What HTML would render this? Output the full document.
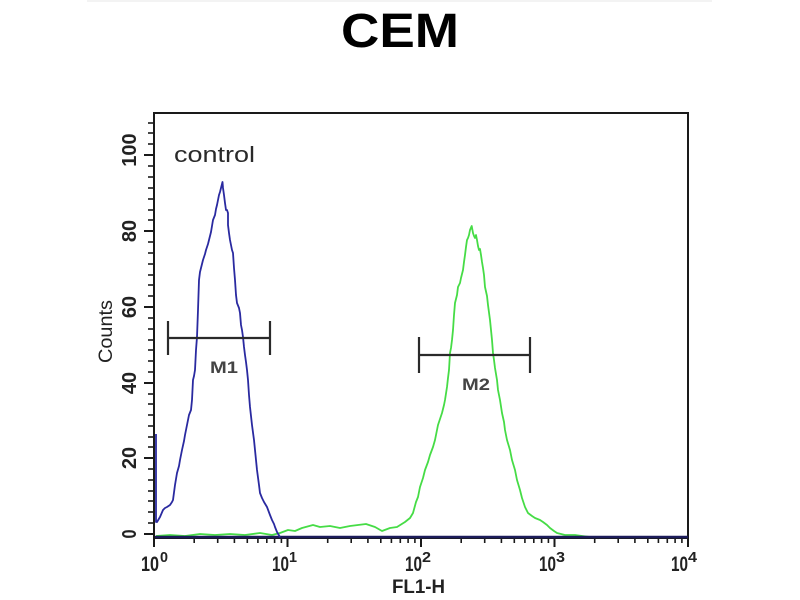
<!DOCTYPE html>
<html>
<head>
<meta charset="utf-8">
<style>
html,body{margin:0;padding:0;background:#fff;}
svg{display:block;}
text{font-family:"Liberation Sans",sans-serif;}
</style>
</head>
<body>
<svg width="800" height="600" viewBox="0 0 800 600" xmlns="http://www.w3.org/2000/svg">
<rect x="0" y="0" width="800" height="600" fill="#fff"/>
<line x1="87" y1="1" x2="712" y2="1" stroke="#efefef" stroke-width="1.5"/>
<text x="341" y="47" font-size="48" font-weight="bold" fill="#000" textLength="118" lengthAdjust="spacingAndGlyphs">CEM</text>

<!-- frame -->
<rect x="154" y="113" width="534" height="425" fill="none" stroke="#1a1a1a" stroke-width="2"/>

<!-- y ticks -->
<g stroke="#1a1a1a" stroke-width="2">
<line x1="144" y1="534" x2="154" y2="534"/>
<line x1="144" y1="458" x2="154" y2="458"/>
<line x1="144" y1="383" x2="154" y2="383"/>
<line x1="144" y1="307" x2="154" y2="307"/>
<line x1="144" y1="231" x2="154" y2="231"/>
<line x1="144" y1="155" x2="154" y2="155"/>
</g>
<g stroke="#1a1a1a" stroke-width="1.6">
<line x1="148" y1="523" x2="154" y2="523"/><line x1="148" y1="512" x2="154" y2="512"/><line x1="148" y1="501" x2="154" y2="501"/><line x1="148" y1="491" x2="154" y2="491"/><line x1="148" y1="480" x2="154" y2="480"/><line x1="148" y1="469" x2="154" y2="469"/>
<line x1="148" y1="447" x2="154" y2="447"/><line x1="148" y1="437" x2="154" y2="437"/><line x1="148" y1="426" x2="154" y2="426"/><line x1="148" y1="415" x2="154" y2="415"/><line x1="148" y1="404" x2="154" y2="404"/><line x1="148" y1="394" x2="154" y2="394"/>
<line x1="148" y1="372" x2="154" y2="372"/><line x1="148" y1="361" x2="154" y2="361"/><line x1="148" y1="350" x2="154" y2="350"/><line x1="148" y1="340" x2="154" y2="340"/><line x1="148" y1="329" x2="154" y2="329"/><line x1="148" y1="318" x2="154" y2="318"/>
<line x1="148" y1="296" x2="154" y2="296"/><line x1="148" y1="285" x2="154" y2="285"/><line x1="148" y1="275" x2="154" y2="275"/><line x1="148" y1="264" x2="154" y2="264"/><line x1="148" y1="253" x2="154" y2="253"/><line x1="148" y1="242" x2="154" y2="242"/>
<line x1="148" y1="220" x2="154" y2="220"/><line x1="148" y1="210" x2="154" y2="210"/><line x1="148" y1="199" x2="154" y2="199"/><line x1="148" y1="188" x2="154" y2="188"/><line x1="148" y1="177" x2="154" y2="177"/><line x1="148" y1="166" x2="154" y2="166"/>
<line x1="148" y1="144" x2="154" y2="144"/><line x1="148" y1="133" x2="154" y2="133"/><line x1="148" y1="123" x2="154" y2="123"/>
</g>

<!-- y tick labels (rotated) -->
<g font-size="20" fill="#222" font-weight="bold">
<text transform="translate(136,534) rotate(-90)" text-anchor="middle" textLength="9" lengthAdjust="spacingAndGlyphs">0</text>
<text transform="translate(136,458) rotate(-90)" text-anchor="middle">20</text>
<text transform="translate(136,383) rotate(-90)" text-anchor="middle">40</text>
<text transform="translate(136,307) rotate(-90)" text-anchor="middle">60</text>
<text transform="translate(136,231) rotate(-90)" text-anchor="middle">80</text>
<text transform="translate(136,150) rotate(-90)" text-anchor="middle">100</text>
</g>
<text transform="translate(112,363) rotate(-90)" font-size="19" fill="#222" textLength="63" lengthAdjust="spacingAndGlyphs">Counts</text>

<!-- x ticks -->
<g stroke="#1a1a1a" stroke-width="2">
<line x1="154" y1="538" x2="154" y2="547"/>
<line x1="287.5" y1="538" x2="287.5" y2="547"/>
<line x1="421" y1="538" x2="421" y2="547"/>
<line x1="554.5" y1="538" x2="554.5" y2="547"/>
<line x1="688" y1="538" x2="688" y2="547"/>
</g>
<g stroke="#1a1a1a" stroke-width="1.6">
<line x1="194.2" y1="538" x2="194.2" y2="543"/><line x1="217.7" y1="538" x2="217.7" y2="543"/><line x1="234.4" y1="538" x2="234.4" y2="543"/><line x1="247.3" y1="538" x2="247.3" y2="543"/><line x1="257.9" y1="538" x2="257.9" y2="543"/><line x1="266.8" y1="538" x2="266.8" y2="543"/><line x1="274.6" y1="538" x2="274.6" y2="543"/><line x1="281.4" y1="538" x2="281.4" y2="543"/>
<line x1="327.7" y1="538" x2="327.7" y2="543"/><line x1="351.2" y1="538" x2="351.2" y2="543"/><line x1="367.9" y1="538" x2="367.9" y2="543"/><line x1="380.8" y1="538" x2="380.8" y2="543"/><line x1="391.4" y1="538" x2="391.4" y2="543"/><line x1="400.3" y1="538" x2="400.3" y2="543"/><line x1="408.1" y1="538" x2="408.1" y2="543"/><line x1="414.9" y1="538" x2="414.9" y2="543"/>
<line x1="461.2" y1="538" x2="461.2" y2="543"/><line x1="484.7" y1="538" x2="484.7" y2="543"/><line x1="501.4" y1="538" x2="501.4" y2="543"/><line x1="514.3" y1="538" x2="514.3" y2="543"/><line x1="524.9" y1="538" x2="524.9" y2="543"/><line x1="533.8" y1="538" x2="533.8" y2="543"/><line x1="541.6" y1="538" x2="541.6" y2="543"/><line x1="548.4" y1="538" x2="548.4" y2="543"/>
<line x1="594.7" y1="538" x2="594.7" y2="543"/><line x1="618.2" y1="538" x2="618.2" y2="543"/><line x1="634.9" y1="538" x2="634.9" y2="543"/><line x1="647.8" y1="538" x2="647.8" y2="543"/><line x1="658.4" y1="538" x2="658.4" y2="543"/><line x1="667.3" y1="538" x2="667.3" y2="543"/><line x1="675.1" y1="538" x2="675.1" y2="543"/><line x1="681.9" y1="538" x2="681.9" y2="543"/>
</g>

<!-- x tick labels -->
<g fill="#222" font-weight="bold">
<text x="141" y="571" font-size="21" textLength="18" lengthAdjust="spacingAndGlyphs">10</text><text x="160" y="562" font-size="15" textLength="8" lengthAdjust="spacingAndGlyphs">0</text>
<text x="272" y="571" font-size="21" textLength="17" lengthAdjust="spacingAndGlyphs">10</text><text x="289" y="562" font-size="15" textLength="8" lengthAdjust="spacingAndGlyphs">1</text>
<text x="405" y="571" font-size="21" textLength="17" lengthAdjust="spacingAndGlyphs">10</text><text x="422" y="562" font-size="15" textLength="9" lengthAdjust="spacingAndGlyphs">2</text>
<text x="539" y="571" font-size="21" textLength="17" lengthAdjust="spacingAndGlyphs">10</text><text x="556" y="562" font-size="15" textLength="9" lengthAdjust="spacingAndGlyphs">3</text>
<text x="671" y="571" font-size="21" textLength="17" lengthAdjust="spacingAndGlyphs">10</text><text x="688" y="562" font-size="15" textLength="9" lengthAdjust="spacingAndGlyphs">4</text>
</g>
<text x="392" y="593" font-size="19" fill="#222" font-weight="bold" textLength="53" lengthAdjust="spacingAndGlyphs">FL1-H</text>

<!-- control label -->
<text x="174" y="162" font-size="22" fill="#2a2a2a" textLength="81" lengthAdjust="spacingAndGlyphs">control</text>

<!-- green series -->
<polyline fill="none" stroke="#46dc46" stroke-width="1.8" stroke-linejoin="round" points="
156,536 170,535 185,536 200,534 215,535 230,534 245,535 260,533 272,535 280,533 288,530 295,531 302,528 313,525 320,527 330,526 340,528 350,526 358,525 366,524 375,527 382,531 390,528 397,527 405,522 410,518 413,513 416,502 418,497 420,487 423,478 425,470 428,462 430,455 433,447 435,440 437,430 438,425 440,419 442,413 444,405 445,400 447,387 448,378 449,370 450,353 451,348 452,340 453,330 454,315 455,303 457,295 458,287 460,283 461,278 463,270 464,262 465,255 466,247 467,240 468,238 469,235 470,230 471.7,226 473,233 474,236 475,238 476,235 477,240 478,246 479,250 480,249 481,255 482,262 483,268 484,275 485,287 487,296 488,305 490,320 491,330 492,340 493,353 494,360 495,368 497,380 498,390 500,400 502,413 504,422 505,430 507,440 510,450 512,460 515,470 517,480 520,490 522,498 525,507 528,513 532,516 535,518 540,520 543,522 547,525 550,528 554,531 557,533 565,535 575,535 582,536 590,537 688,537"/>

<!-- baseline (blue over axis) -->
<line x1="155" y1="537" x2="688" y2="537" stroke="#1c1c5a" stroke-width="2.5"/>

<!-- blue series -->
<polyline fill="none" stroke="#2a2aa0" stroke-width="1.8" stroke-linejoin="round" points="
156,434 156,522 157,522 160,517 163,510 165,508 167,507 170,505 172,502 173,500 175,485 177,473 179,466 180,460 182,450 184,441 185,435 187,425 189,415 191,410 192,400 193,380 194,376 195,370 196,350 197,337 198,310 199,280 200,272 201,268 203,260 205,254 206,250 208,244 209,240 211,232 212,226 213,220 215,215 216,209 217,205 218,200 219,195 220,192 221,188 222.5,182 223,188 224,195 225,203 226,210 227,210 228,213 228,225 229,233 230,240 231,245 232,250 233,253 234,268 235,280 236,295 237,303 239,308 240,313 241,325 242,330 243,337 244,347 245,355 246,362 247,370 248,380 249,395 250,407 251,416 252,425 254,440 255,450 256,460 257,470 259,485 260,493 262,498 264,502 267,507 270,515 272,520 274,524 275,527 277,532 280,537"/>

<!-- markers -->
<g stroke="#2a2a2a" stroke-width="2.2" fill="none">
<line x1="168" y1="338" x2="270" y2="338"/>
<line x1="168" y1="321" x2="168" y2="355"/>
<line x1="270" y1="321" x2="270" y2="355"/>
<line x1="419" y1="355" x2="530" y2="355"/>
<line x1="419" y1="337" x2="419" y2="373"/>
<line x1="530" y1="337" x2="530" y2="373"/>
</g>
<text x="210" y="373" font-size="17" fill="#444" font-weight="bold" textLength="28" lengthAdjust="spacingAndGlyphs">M1</text>
<text x="462" y="390" font-size="17" fill="#444" font-weight="bold" textLength="28" lengthAdjust="spacingAndGlyphs">M2</text>
</svg>
</body>
</html>
